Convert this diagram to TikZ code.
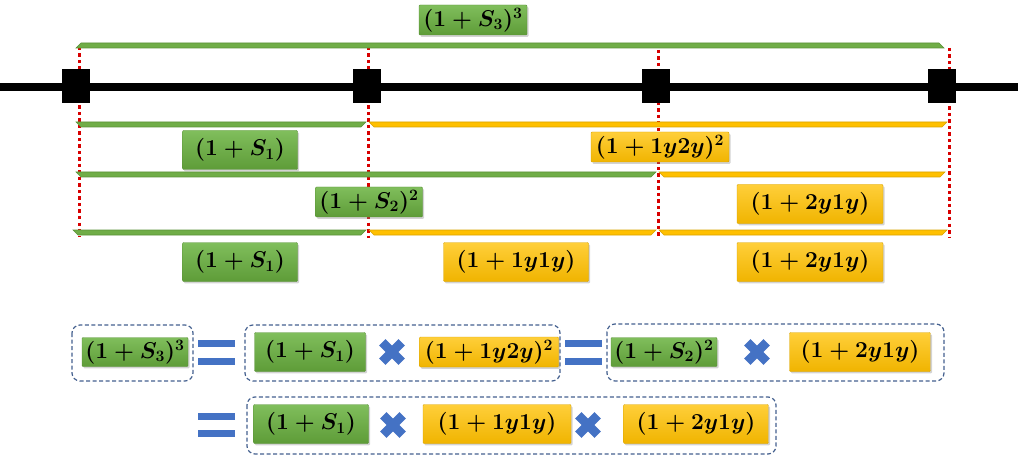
\documentclass[tikz,border=0pt]{standalone}
\usepackage{amsmath}
\usepackage{graphicx}
\usetikzlibrary{shadows,calc}
\definecolor{gtop}{HTML}{80BE5C}
\definecolor{gbot}{HTML}{5E9C38}
\definecolor{gdark}{HTML}{5A9138}
\definecolor{gfill}{HTML}{70AD47}
\definecolor{ytop}{HTML}{FFCF3A}
\definecolor{ybot}{HTML}{F0B400}
\definecolor{ydark}{HTML}{D8A300}
\definecolor{yfill}{HTML}{FFC000}
\definecolor{reddot}{HTML}{D80000}
\definecolor{bluec}{HTML}{4472C4}
\definecolor{dashc}{HTML}{44608F}
\newcommand\mt[1]{\scalebox{1.1}{$#1$}}
\newcommand\bardown[4]{\filldraw[#4] (#1+5,#3) -- (#2-5,#3) -- (#2,#3+5) -- (#1,#3+5) -- cycle;}
\newcommand\barup[4]{\filldraw[#4] (#1,#3) -- (#2,#3) -- (#2-5,#3+5) -- (#1+5,#3+5) -- cycle;}
\newcommand\eqsign[4]{\fill[bluec] (#1,#2) rectangle ++(37,#4); \fill[bluec] (#1,#2+#3) rectangle ++(37,#4);}
\newcommand\crossat[1]{\draw[bluec,line width=9pt] ($(#1)+(-9.7,-9.7)$) -- ($(#1)+(9.7,9.7)$); \draw[bluec,line width=9pt] ($(#1)+(-9.7,9.7)$) -- ($(#1)+(9.7,-9.7)$);}
\begin{document}
\begin{tikzpicture}[x=1pt,y=-1pt,
  lab/.style={shade, rounded corners=1pt, line width=0.4pt, inner sep=0pt, text=black,
    font=\fontsize{22}{26}\selectfont\boldmath,
    drop shadow={shadow xshift=1.5pt,shadow yshift=-1.8pt,opacity=0.35}},
  gbox/.style={lab, top color=gtop, bottom color=gbot, draw=gdark},
  ybox/.style={lab, top color=ytop, bottom color=ybot, draw=ydark},
  gbar/.style={fill=gfill, draw=gdark, line width=0.6pt},
  ybar/.style={fill=yfill, draw=ydark, line width=0.6pt},
  rdot/.style={draw=reddot, line width=3pt, dash pattern=on 3.5pt off 3pt},
  dbox/.style={draw=dashc, line width=1.2pt, dash pattern=on 4pt off 2.5pt, rounded corners=8pt},
  tick/.style={fill=black, minimum width=28pt, minimum height=34pt, inner sep=0pt}
]
\useasboundingbox (0,0) rectangle (1025,457);

% red dotted lines
\coordinate (d1a) at (79,47);  \coordinate (d1b) at (79,237);
\coordinate (d2a) at (368,47); \coordinate (d2b) at (368,238);
\coordinate (d3a) at (658,50); \coordinate (d3b) at (658,238);
\coordinate (d4a) at (949,48); \coordinate (d4b) at (949,238);
\draw[rdot] (d1a) -- (d1b);
\draw[rdot] (d2a) -- (d2b);
\draw[rdot] (d3a) -- (d3b);
\draw[rdot] (d4a) -- (d4b);

% timeline
\coordinate (tl0) at (0,87);
\coordinate (tl1) at (1018,87);
\draw[line width=8pt] (tl0) -- (tl1);
\node[tick] (t0) at (76,86) {};
\node[tick] (t1) at (366.5,86) {};
\node[tick] (t2) at (656,86) {};
\node[tick] (t3) at (942,86) {};

% bars
\bardown{76}{944}{43}{gbar}
\barup{76}{366}{122}{gbar}
\barup{369}{947}{122}{ybar}
\barup{76}{656}{172}{gbar}
\barup{659}{945}{172}{ybar}
\barup{73}{366}{230}{gbar}
\barup{369}{656}{230}{ybar}
\barup{659}{947}{230}{ybar}

% labels upper part
\node[gbox, minimum width=108pt, minimum height=30pt] (s3top) at (473,20) {\mt{(1+S_3)^3}};
\node[gbox, minimum width=115pt, minimum height=39pt] (s1a) at (240,150) {\mt{(1+S_1)}};
\node[ybox, minimum width=138pt, minimum height=30pt] (y12a) at (660,147) {\mt{(1+1y2y)^2}};
\node[gbox, minimum width=107pt, minimum height=30pt] (s2a) at (369,202) {\mt{(1+S_2)^2}};
\node[ybox, minimum width=146pt, minimum height=39pt] (y21a) at (810,204) {\mt{(1+2y1y)}};
\node[gbox, minimum width=115pt, minimum height=39pt] (s1b) at (240,262) {\mt{(1+S_1)}};
\node[ybox, minimum width=145pt, minimum height=39pt] (y11a) at (516,262) {\mt{(1+1y1y)}};
\node[ybox, minimum width=146pt, minimum height=39pt] (y21b) at (810,262) {\mt{(1+2y1y)}};

% equation row A
\draw[dbox] (72,325) rectangle (193,381);
\draw[dbox] (245,325) rectangle (560,381);
\draw[dbox] (607,324) rectangle (944,381);
\node[gbox, minimum width=106pt, minimum height=29pt] (s3b) at (135,352) {\mt{(1+S_3)^3}};
\eqsign{198}{340}{18}{7}
\node[gbox, minimum width=111pt, minimum height=39pt] (s1c) at (310,352) {\mt{(1+S_1)}};
\coordinate (xa1) at (392,352);
\crossat{xa1}
\node[ybox, minimum width=139pt, minimum height=30pt] (y12b) at (489,352) {\mt{(1+1y2y)^2}};
\eqsign{565}{340}{18}{7}
\node[gbox, minimum width=106pt, minimum height=29pt] (s2b) at (664,352) {\mt{(1+S_2)^2}};
\coordinate (xa2) at (757,352);
\crossat{xa2}
\node[ybox, minimum width=141pt, minimum height=39pt] (y21c) at (860,352) {\mt{(1+2y1y)}};

% equation row B
\eqsign{198}{413}{17}{7}
\draw[dbox] (247,397) rectangle (776,454);
\node[gbox, minimum width=115pt, minimum height=39pt] (s1d) at (311,424) {\mt{(1+S_1)}};
\coordinate (xb1) at (393,425);
\crossat{xb1}
\node[ybox, minimum width=148pt, minimum height=39pt] (y11b) at (497,424) {\mt{(1+1y1y)}};
\coordinate (xb2) at (588,425);
\crossat{xb2}
\node[ybox, minimum width=145pt, minimum height=39pt] (y21d) at (696,424) {\mt{(1+2y1y)}};
\end{tikzpicture}
\end{document}
